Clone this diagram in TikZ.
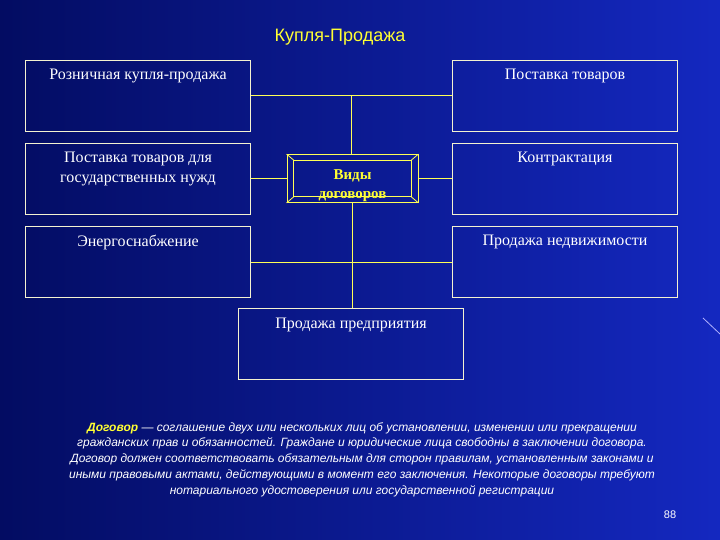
\documentclass[tikz,border=0pt]{standalone}
\usepackage{fontspec}
\setmainfont{Liberation Serif}
\setsansfont{Liberation Sans}
\usetikzlibrary{calc}
\definecolor{bgleft}{HTML}{030C62}
\definecolor{bgright}{HTML}{1428C0}
\definecolor{boxline}{HTML}{F4F2D0}
\definecolor{conline}{HTML}{FFFF55}
\definecolor{ttl}{HTML}{FFFF33}
\tikzset{
  box/.style={draw=boxline, line width=1pt, minimum width=225pt, minimum height=71pt, inner sep=0pt, anchor=north west},
  boxtext/.style={anchor=north, text=white, font=\fontsize{16}{20}\selectfont, align=center, inner sep=0pt},
  con/.style={draw=conline, line width=1pt},
  bev/.style={draw=conline, line width=0.8pt},
}
\begin{document}
\begin{tikzpicture}[x=1pt,y=-1pt]
\useasboundingbox (0,0) rectangle (720,540);
\shade[left color=bgleft, right color=bgright] (0,0) rectangle (720,540);
\draw[color=blue!30!white, line width=0.8pt] (703,318) -- (720,334);

\node[text=ttl, font=\sffamily\fontsize{18}{20}\selectfont, inner sep=0pt] (title) at (340,37) {Купля-Продажа};

\node[box] (b1) at (25,60) {};
\node[box] (b2) at (452,60) {};
\node[box] (b3) at (25,143) {};
\node[box] (b4) at (452,143) {};
\node[box] (b5) at (25,226) {};
\node[box] (b6) at (452,226) {};
\node[box] (b7) at (238,308) {};

\node[boxtext] (t1) at ($(b1.north)+(0,9)$) {Розничная купля-продажа};
\node[boxtext] (t2) at ($(b2.north)+(0,9)$) {Поставка товаров};
\node[boxtext] (t3) at ($(b3.north)+(0,9)$) {Поставка товаров для\\государственных нужд};
\node[boxtext] (t4) at ($(b4.north)+(0,9)$) {Контрактация};
\node[boxtext] (t5) at ($(b5.north)+(0,9)$) {Энергоснабжение};
\node[boxtext] (t6) at ($(b6.north)+(0,9)$) {Продажа недвижимости};
\node[boxtext] (t7) at ($(b7.north)+(0,10)$) {Продажа предприятия};

% centre bevelled box
\node[bev, minimum width=131pt, minimum height=48pt, inner sep=0pt] (c) at (352.5,178.5) {};
\coordinate (ci1) at ($(c.north west)+(7,6)$);
\coordinate (ci2) at ($(c.north east)+(-7,6)$);
\coordinate (ci3) at ($(c.south east)+(-7,-6)$);
\coordinate (ci4) at ($(c.south west)+(7,-6)$);
\draw[bev] (ci1) -- (ci2) -- (ci3) -- (ci4) -- cycle;
\draw[bev] (c.north west) -- (ci1) (c.north east) -- (ci2) (c.south east) -- (ci3) (c.south west) -- (ci4);
\node[text=ttl, font=\bfseries\fontsize{15}{19}\selectfont, align=center, inner sep=0pt, anchor=north] (ct) at ($(c.north)+(0,15)$) {Виды\\договоров};

% connectors
\draw[con] (b1.east) -- (b2.west);
\coordinate (top) at ($(b1.east)!0.5!(b2.west)$);
\draw[con] (top) -- (top |- c.north);
\draw[con] (b3.east) -- (b3.east -| c.west);
\draw[con] (c.east) -- (c.east -| b4.west);
\draw[con] (b5.east) -- (b6.west);
\draw[con] (c.south) -- (c.south |- b7.north);

\node[text=white, font=\sffamily\itshape\fontsize{12}{15.8}\selectfont, align=center, inner sep=0pt, anchor=north] (para) at (362,422) {%
{\bfseries\color{ttl}Договор} — соглашение двух или нескольких лиц об установлении, изменении или прекращении\\
гражданских прав и обязанностей. Граждане и юридические лица свободны в заключении договора.\\
Договор должен соответствовать обязательным для сторон правилам, установленным законами и\\
иными правовыми актами, действующими в момент его заключения. Некоторые договоры требуют\\
нотариального удостоверения или государственной регистрации};

\node[text=white, font=\sffamily\fontsize{11}{13}\selectfont, inner sep=0pt] (pg) at (670,515) {88};
\end{tikzpicture}
\end{document}
